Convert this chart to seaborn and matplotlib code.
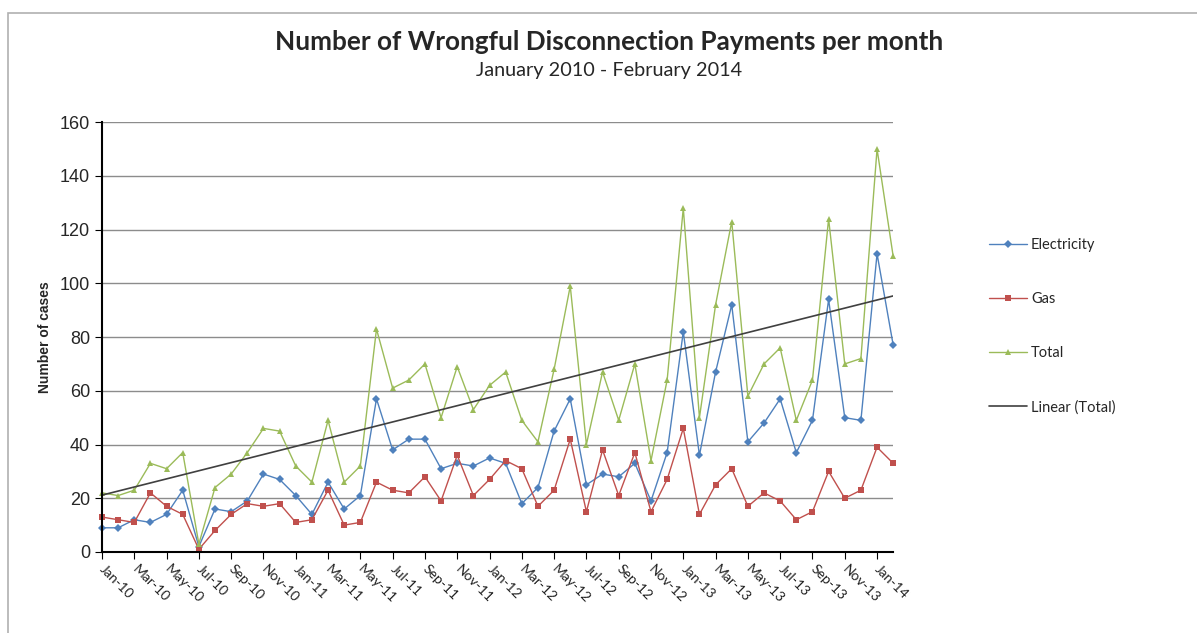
import numpy as np
import matplotlib
matplotlib.use("Agg")
import matplotlib.pyplot as plt
import seaborn as sns

# monthly values Jan-10 .. Feb-14
months = ["Jan-10", "Feb-10", "Mar-10", "Apr-10", "May-10", "Jun-10", "Jul-10", "Aug-10",
          "Sep-10", "Oct-10", "Nov-10", "Dec-10", "Jan-11", "Feb-11", "Mar-11", "Apr-11",
          "May-11", "Jun-11", "Jul-11", "Aug-11", "Sep-11", "Oct-11", "Nov-11", "Dec-11",
          "Jan-12", "Feb-12", "Mar-12", "Apr-12", "May-12", "Jun-12", "Jul-12", "Aug-12",
          "Sep-12", "Oct-12", "Nov-12", "Dec-12", "Jan-13", "Feb-13", "Mar-13", "Apr-13",
          "May-13", "Jun-13", "Jul-13", "Aug-13", "Sep-13", "Oct-13", "Nov-13", "Dec-13",
          "Jan-14", "Feb-14"]
electricity = [9, 9, 12, 11, 14, 23, 2, 16, 15, 19, 29, 27, 21, 14, 26, 16, 21, 57, 38, 42,
               42, 31, 33, 32, 35, 33, 18, 24, 45, 57, 25, 29, 28, 33, 19, 37, 82, 36, 67, 92,
               41, 48, 57, 37, 49, 94, 50, 49, 111, 77]
gas = [13, 12, 11, 22, 17, 14, 1, 8, 14, 18, 17, 18, 11, 12, 23, 10, 11, 26, 23, 22,
       28, 19, 36, 21, 27, 34, 31, 17, 23, 42, 15, 38, 21, 37, 15, 27, 46, 14, 25, 31,
       17, 22, 19, 12, 15, 30, 20, 23, 39, 33]
total = [22, 21, 23, 33, 31, 37, 3, 24, 29, 37, 46, 45, 32, 26, 49, 26, 32, 83, 61, 64,
         70, 50, 69, 53, 62, 67, 49, 41, 68, 99, 40, 67, 49, 70, 34, 64, 128, 50, 92, 123,
         58, 70, 76, 49, 64, 124, 70, 72, 150, 110]

x = np.arange(len(months))
# linear trendline on total, like Excel's "Linear (Total)"
slope, intercept = np.polyfit(x, total, 1)
trend = slope * x + intercept

sns.set_style("white")
plt.rcParams['font.family'] = ['Liberation Sans', 'DejaVu Sans']

fig = plt.figure(figsize=(11.97, 6.33), dpi=100)
ax = fig.add_axes([0.0852, 0.128, 0.661, 0.679])

# light frame round the chart area
fig.add_artist(plt.Rectangle((8 / 1197, -0.1), 1.2, 1 - 13 / 633 + 0.1, transform=fig.transFigure,
                             fill=False, edgecolor="#b0b0b0", linewidth=1.2))

sns.lineplot(x=x, y=electricity, ax=ax, color="#4F81BD", marker="D", markersize=4,
             markeredgewidth=0, linewidth=1, label="Electricity", clip_on=False)
sns.lineplot(x=x, y=gas, ax=ax, color="#C0504D", marker="s", markersize=5,
             markeredgewidth=0, linewidth=1, label="Gas", clip_on=False)
sns.lineplot(x=x, y=total, ax=ax, color="#9BBB59", marker="^", markersize=5,
             markeredgewidth=0, linewidth=1, label="Total", clip_on=False)
sns.lineplot(x=x, y=trend, ax=ax, color="#404040", linewidth=1.2, label="Linear (Total)")

ax.set_xlim(0, len(months) - 1)
ax.set_ylim(0, 160)
ax.set_yticks(range(0, 161, 20))
ax.tick_params(axis="y", labelsize=13, length=5, direction="out", color="black", left=True)
ax.yaxis.grid(True, color="#8c8c8c", linewidth=1)
ax.xaxis.grid(False)

ax.set_xticks(x[::2])
ax.set_xticklabels(months[::2], rotation=-45, ha="left", va="center", rotation_mode="anchor",
                   fontsize=10, family=["Lato", "DejaVu Sans"], color="#222222")
ax.tick_params(axis="x", length=5, direction="out", color="black", bottom=True, pad=6)

for s in ["top", "right"]:
    ax.spines[s].set_visible(False)
ax.spines["left"].set_color("black")
ax.spines["bottom"].set_color("black")
ax.spines["left"].set_linewidth(1.5)
ax.spines["bottom"].set_linewidth(1.5)

ax.set_ylabel("Number of cases", fontsize=10, fontweight="bold", labelpad=6)
ax.set_xlabel("")

ax.legend_.remove()
handles, labels = ax.get_legend_handles_labels()
fig.legend(handles, labels, loc="upper left", bbox_to_anchor=(0.815, 0.645), frameon=False,
           labelspacing=2.75, handlelength=2.6, handletextpad=0.3,
           prop={"family": ["Lato", "DejaVu Sans"], "size": 10.5})

fig.text(0.509, 0.933, "Number of Wrongful Disconnection Payments per month", ha="center",
         va="center", fontsize=18.8, fontweight="bold", family=["Lato", "DejaVu Sans"])
fig.text(0.509, 0.888, "January 2010 - February 2014", ha="center", va="center",
         fontsize=14.3, family=["Lato", "DejaVu Sans"])

fig.savefig("out.png", dpi=100, facecolor="white")
